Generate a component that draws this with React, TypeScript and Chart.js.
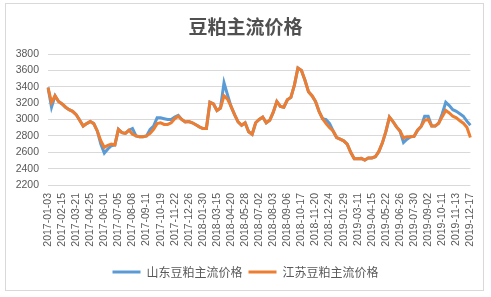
import React, { useEffect, useRef } from "react";
import { Chart, registerables } from "chart.js";

Chart.register(...registerables);

const tickLabels = [
  "2017-01-03", "2017-02-15", "2017-03-21", "2017-04-25", "2017-06-01", "2017-07-05",
  "2017-08-08", "2017-09-11", "2017-10-19", "2017-11-22", "2017-12-26", "2018-01-30",
  "2018-03-15", "2018-04-20", "2018-05-28", "2018-07-02", "2018-08-03", "2018-09-06",
  "2018-10-17", "2018-11-20", "2018-12-24", "2019-01-29", "2019-03-11", "2019-04-15",
  "2019-05-22", "2019-06-26", "2019-07-30", "2019-09-02", "2019-10-11", "2019-11-13",
  "2019-12-17",
];

const POINTS_PER_LABEL = 4;

const shandong = [
  3390, 3150, 3290, 3220, 3190, 3150, 3120, 3100, 3060, 2990,
  2920, 2950, 2975, 2950, 2860, 2700, 2590, 2640, 2680, 2690,
  2880, 2840, 2830, 2870, 2890, 2800, 2790, 2790, 2800, 2880,
  2920, 3020, 3020, 3010, 3000, 3000, 3030, 3050, 3000, 2970,
  2975, 2960, 2935, 2910, 2890, 2890, 3210, 3190, 3110, 3140,
  3450, 3300, 3160, 3060, 2970, 2930, 2960, 2850, 2820, 2960,
  3000, 3030, 2960, 2990, 3090, 3220, 3160, 3150, 3240, 3270,
  3420, 3630, 3600, 3480, 3340, 3290, 3220, 3100, 3010, 3000,
  2950, 2860, 2780, 2760, 2740, 2700, 2600, 2520, 2520, 2525,
  2505, 2530, 2530, 2545, 2610, 2715, 2855, 3030, 2975, 2910,
  2860, 2720, 2760, 2790, 2795, 2870, 2915, 3040, 3040, 2920,
  2920, 2955, 3070, 3210, 3170, 3120, 3100, 3070, 3040, 2980,
  2930,
];

const jiangsu = [
  3390, 3210, 3290, 3220, 3190, 3150, 3120, 3100, 3060, 2990,
  2920, 2950, 2975, 2950, 2860, 2740, 2660, 2685, 2700, 2690,
  2880, 2840, 2830, 2870, 2820, 2800, 2790, 2790, 2800, 2830,
  2880, 2950, 2960, 2940, 2940, 2960, 3010, 3040, 3000, 2970,
  2975, 2960, 2935, 2910, 2890, 2890, 3210, 3190, 3110, 3140,
  3290, 3250, 3160, 3060, 2970, 2930, 2960, 2850, 2820, 2960,
  3000, 3030, 2960, 2990, 3090, 3220, 3160, 3150, 3240, 3270,
  3420, 3630, 3600, 3480, 3340, 3290, 3220, 3100, 3010, 2950,
  2900, 2860, 2780, 2760, 2740, 2700, 2600, 2520, 2520, 2525,
  2505, 2530, 2530, 2545, 2610, 2715, 2855, 3030, 2975, 2910,
  2860, 2775, 2790, 2790, 2795, 2870, 2915, 2990, 3000, 2920,
  2920, 2955, 3035, 3110, 3080, 3040, 3020, 2985, 2955, 2905,
  2780,
];

const seriesNames = ["山东豆粕主流价格", "江苏豆粕主流价格"];
const titleText = "豆粕主流价格";

const categories = jiangsu.map((_, i) =>
  i % POINTS_PER_LABEL === 0 ? tickLabels[i / POINTS_PER_LABEL] ?? "" : ""
);

const TEXT = "#595959";
const GRID = "#d9d9d9";

const frame = {
  id: "frame",
  beforeDraw(chart: any) {
    const { ctx, width, height } = chart;
    ctx.save();
    ctx.fillStyle = "#ffffff";
    ctx.fillRect(0, 0, width, height);
    ctx.strokeStyle = GRID;
    ctx.lineWidth = 1;
    ctx.strokeRect(5.5, 3.5, 478, 287);
    ctx.restore();
  },
};

export default function App() {
  const ref = useRef<HTMLCanvasElement | null>(null);

  useEffect(() => {
    if (!ref.current) return;
    const chart = new Chart(ref.current, {
      type: "line",
      data: {
        labels: categories,
        datasets: [
          {
            label: seriesNames[0],
            data: shandong,
            borderColor: "#5B9BD5",
            backgroundColor: "#5B9BD5",
            borderWidth: 3,
            pointRadius: 0,
            tension: 0,
            order: 1,
            yAxisID: "y",
          },
          {
            label: seriesNames[1],
            data: jiangsu,
            borderColor: "#ED7D31",
            backgroundColor: "#ED7D31",
            borderWidth: 3,
            pointRadius: 0,
            tension: 0,
            order: 0,
            yAxisID: "y",
          },
        ],
      },
      options: {
        responsive: false,
        animation: false,
        devicePixelRatio: 1,
        layout: { padding: { top: 0, left: 0, right: 0, bottom: 9 } },
        plugins: {
          tooltip: { enabled: false },
          title: {
            display: true,
            text: titleText,
            color: "#505050",
            font: { family: "'Noto Sans CJK SC', sans-serif", size: 19, weight: "bold", lineHeight: 1.2 },
            padding: { top: 15, bottom: 16.2 },
          },
          legend: {
            display: true,
            position: "bottom",
            labels: {
              usePointStyle: true,
              pointStyle: "line",
              pointStyleWidth: 28,
              boxHeight: 12,
              color: TEXT,
              padding: 6,
              font: { family: "'Noto Sans CJK SC', sans-serif", size: 12 },
              sort: (a: any, b: any) => a.datasetIndex - b.datasetIndex,
            },
          },
        },
        scales: {
          x: {
            type: "category",
            offset: false,
            grid: { display: false, drawTicks: false },
            border: { display: false },
            ticks: {
              autoSkip: false,
              maxRotation: 90,
              minRotation: 90,
              padding: 8,
              color: TEXT,
              font: { family: "'Liberation Sans', sans-serif", size: 10.5 },
            },
            afterFit: (scale: any) => {
              scale.height = 75;
            },
          },
          y: {
            position: "left",
            min: 2200,
            max: 3800,
            grid: { color: GRID, lineWidth: 1, drawTicks: false },
            border: { display: false },
            ticks: {
              stepSize: 200,
              padding: 9,
              color: TEXT,
              font: { family: "'Liberation Sans', sans-serif", size: 10.5 },
              callback: (v: any) => String(v),
            },
            afterFit: (scale: any) => {
              scale.width = 48;
            },
          },
          y2: {
            position: "right",
            display: true,
            grid: { display: false, drawTicks: false },
            border: { display: false },
            ticks: { display: false },
            afterFit: (scale: any) => {
              scale.width = 20;
            },
          },
        },
      },
      plugins: [frame],
    });
    return () => chart.destroy();
  }, []);

  return (
    <div style={{ position: "absolute", left: 0, top: 0, width: 491, height: 297, background: "#fff" }}>
      <canvas ref={ref} width={491} height={297} style={{ width: 491, height: 297, display: "block" }} />
    </div>
  );
}
